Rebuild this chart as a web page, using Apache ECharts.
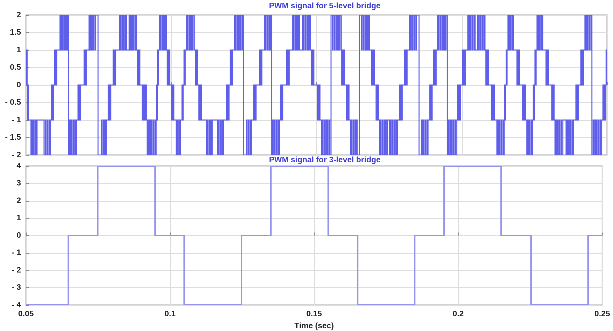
<!DOCTYPE html>
<html>
<head>
<meta charset="utf-8">
<title>PWM signals</title>
<script src="https://cdn.jsdelivr.net/npm/echarts@6/dist/echarts.min.js"></script>
<style>
  html, body { margin: 0; padding: 0; background: #fff; }
  #chart { width: 613px; height: 331px; }
</style>
</head>
<body>
<div id="chart"></div>
<script>
// 5-level bridge output: [time (ms), level from that instant on]
const pwm5 = [
  [50.0, 1], [50.1, 0], [50.25, 1], [50.4, 0], [50.6, -1], [50.75, 0], [50.9, -1],
  [51.7, -2], [52.0, -1], [52.2, -2], [52.6, -1], [52.8, -2], [53.3, -1], [53.5, -2], [53.8, -1],
  [56.2, -2], [56.6, -1], [56.8, -2], [57.2, -1], [57.4, -2], [57.9, -1], [58.1, -2], [58.5, -1],
  [58.7, 0], [58.9, -1], [59.1, 0], [59.3, -1], [59.4, 0],
  [59.8, 1], [60.0, 0], [60.2, 1], [60.4, 0], [60.6, 1],
  [61.7, 2], [62.0, 1], [62.2, 2], [62.6, 1], [62.8, 2], [63.3, 1], [63.6, 2], [63.9, 1], [64.1, 2], [64.4, 1], [64.6, 2],
  [64.7, -2],
  [65.0, -1], [65.3, -2], [65.6, -1], [65.8, -2], [66.2, -1], [66.4, -2], [66.8, -1], [67.0, -2], [67.3, -1],
  [67.9, 0], [68.1, -1], [68.3, 0], [68.6, -1], [68.8, 0],
  [70.0, 1], [70.2, 0], [70.4, 1], [70.7, 0], [70.9, 1],
  [71.7, 2], [72.0, 1], [72.2, 2], [72.6, 1], [72.8, 2], [73.2, 1], [73.4, 2], [73.8, 1], [74.0, 2],
  [74.8, -2],
  [75.9, -1], [76.1, -2], [76.5, -1], [76.7, -2], [77.1, -1], [77.3, -2], [77.7, -1],
  [78.3, 0], [78.5, -1], [78.7, 0], [79.0, -1], [79.2, 0],
  [80.0, 1], [80.2, 0], [80.4, 1], [80.7, 0], [80.9, 1],
  [82.1, 2], [82.4, 1], [82.6, 2], [83.0, 1], [83.2, 2], [83.6, 1], [83.8, 2], [84.2, 1], [84.4, 2], [84.6, 1],
  [85.5, 2], [85.8, 1], [86.0, 2], [86.4, 1], [86.6, 2], [87.0, 1], [87.2, 2], [87.6, 1], [87.8, 2], [88.0, 1],
  [88.3, 0], [88.5, 1], [88.7, 0], [89.0, 1], [89.2, 0],
  [90.0, -1], [90.2, 0], [90.5, -1], [90.8, 0], [91.0, -1], [91.3, 0], [91.4, -1],
  [91.7, -2], [92.0, -1], [92.2, -2], [92.6, -1], [92.8, -2], [93.2, -1], [93.4, -2], [93.8, -1], [94.0, -2], [94.4, -1], [94.6, -2], [94.8, -1],
  [94.9, 0], [95.1, -1], [95.2, 0], [95.3, 1], [95.5, 0], [95.6, 1],
  [95.9, 2], [96.2, 1], [96.4, 2], [96.8, 1], [97.0, 2], [97.4, 1], [97.6, 2], [98.0, 1], [98.2, 2], [98.4, 1],
  [98.6, 0], [98.8, 1], [99.0, 0], [99.3, 1], [99.5, 0],
  [100.0, -1], [100.2, 0], [100.4, -1], [100.7, 0], [100.9, -1],
  [101.7, -2], [102.0, -1], [102.2, -2], [102.6, -1], [102.8, -2], [103.2, -1],
  [103.7, 0], [103.9, -1], [104.1, 0], [104.4, 1], [104.6, 0], [104.8, 1],
  [105.2, 2], [105.5, 1], [105.7, 2], [106.1, 1], [106.3, 2], [106.7, 1], [106.9, 2], [107.3, 1], [107.5, 2], [107.9, 1],
  [108.3, 0], [108.5, 1], [108.7, 0], [109.0, 1], [109.1, 0],
  [109.5, -1], [109.7, 0], [109.9, -1], [110.2, 0], [110.4, -1],
  [112.1, -2], [112.4, -1], [112.6, -2], [113.0, -1], [113.2, -2], [113.6, -1], [113.8, -2], [114.1, -1],
  [115.9, -2], [116.2, -1], [116.4, -2], [116.8, -1], [117.0, -2], [117.4, -1], [117.6, -2], [117.9, -1],
  [119.0, 0], [119.2, -1], [119.4, 0], [119.7, -1], [119.9, 0],
  [120.3, 1], [120.5, 0], [120.7, 1], [120.9, 0], [121.1, 1],
  [121.7, 2], [122.0, 1], [122.2, 2], [122.6, 1], [122.8, 2], [123.2, 1], [123.4, 2], [123.8, 1], [124.0, 2], [124.4, 1], [124.6, 2],
  [124.9, -2],
  [125.9, -1], [126.1, -2], [126.5, -1], [126.7, -2], [127.1, -1], [127.3, -2], [127.7, -1],
  [128.3, 0], [128.5, -1], [128.7, 0], [129.0, -1], [129.2, 0],
  [130.3, 1], [130.5, 0], [130.7, 1], [131.0, 0], [131.2, 1],
  [132.1, 2], [132.4, 1], [132.6, 2], [133.0, 1], [133.2, 2], [133.6, 1], [133.8, 2], [134.2, 1], [134.4, 2],
  [134.6, -2],
  [134.9, -1], [135.1, -2], [135.5, -1], [135.7, -2], [136.1, -1], [136.3, -2], [136.7, -1], [136.9, -2], [137.2, -1],
  [137.6, 0], [137.8, -1], [138.0, 0], [138.2, -1], [138.4, 0],
  [139.7, 1], [139.9, 0], [140.1, 1], [140.4, 0], [140.6, 1],
  [141.7, 2], [142.0, 1], [142.2, 2], [142.6, 1], [142.8, 2], [143.2, 1], [143.4, 2], [143.8, 1], [144.0, 2], [144.2, 1],
  [145.2, 2], [145.5, 1], [145.7, 2], [146.1, 1], [146.3, 2], [146.7, 1], [146.9, 2], [147.3, 1], [147.5, 2], [147.9, 1],
  [148.3, 0], [148.5, 1], [148.7, 0], [148.9, 1], [149.1, 0],
  [150.3, -1], [150.5, 0], [150.7, -1], [151.0, 0], [151.2, -1],
  [151.7, -2], [152.0, -1], [152.2, -2], [152.6, -1], [152.8, -2], [153.2, -1], [153.4, -2], [153.8, -1], [154.0, -2], [154.4, -1], [154.6, -2],
  [155.0, 2],
  [155.5, 1], [155.7, 2], [156.1, 1], [156.3, 2], [156.7, 1], [156.9, 2], [157.3, 1], [157.5, 2], [157.9, 1], [158.1, 2], [158.5, 1],
  [158.7, 0], [158.9, 1], [159.1, 0], [159.4, 1], [159.6, 0],
  [160.3, -1], [160.5, 0], [160.7, -1], [161.0, 0], [161.2, -1],
  [161.7, -2], [162.0, -1], [162.2, -2], [162.6, -1], [162.8, -2], [163.2, -1], [163.4, -2], [163.8, -1], [164.0, -2],
  [164.8, 2],
  [165.5, 1], [165.7, 2], [166.1, 1], [166.3, 2], [166.7, 1], [166.9, 2], [167.3, 1], [167.5, 2], [167.9, 1], [168.1, 2], [168.3, 1],
  [169.0, 0], [169.2, 1], [169.4, 0], [169.7, 1], [169.9, 0],
  [170.5, -1], [170.7, 0], [170.9, -1], [171.1, 0], [171.3, -1],
  [171.7, -2], [172.0, -1], [172.2, -2], [172.6, -1], [172.8, -2], [173.2, -1], [173.4, -2], [173.8, -1], [174.0, -2], [174.5, -1],
  [175.2, -2], [175.5, -1], [175.7, -2], [176.1, -1], [176.3, -2], [176.7, -1], [176.9, -2], [177.3, -1], [177.5, -2], [177.9, -1],
  [178.6, 0], [178.8, -1], [179.0, 0], [179.3, -1], [179.5, 0],
  [180.3, 1], [180.5, 0], [180.7, 1], [181.0, 0], [181.2, 1],
  [182.1, 2], [182.4, 1], [182.6, 2], [183.0, 1], [183.2, 2], [183.6, 1], [183.8, 2], [184.2, 1], [184.4, 2],
  [185.3, -2],
  [186.2, -1], [186.4, -2], [186.8, -1], [187.0, -2], [187.4, -1], [187.6, -2], [188.0, -1], [188.2, -2], [188.4, -1],
  [189.0, 0], [189.2, -1], [189.4, 0], [189.6, -1], [189.8, 0],
  [190.3, 1], [190.5, 0], [190.7, 1], [191.0, 0], [191.2, 1],
  [191.7, 2], [192.0, 1], [192.2, 2], [192.6, 1], [192.8, 2], [193.2, 1], [193.4, 2], [193.8, 1], [194.0, 2], [194.4, 1], [194.6, 2],
  [195.0, -2],
  [195.3, -1], [195.5, -2], [195.9, -1], [196.1, -2], [196.5, -1], [196.7, -2], [197.1, -1], [197.3, -2], [197.7, -1], [197.9, -2], [198.3, -1],
  [198.6, 0], [198.8, -1], [199.0, 0], [199.3, -1], [199.5, 0],
  [200.3, 1], [200.5, 0], [200.7, 1], [201.0, 0], [201.2, 1],
  [202.1, 2], [202.4, 1], [202.6, 2], [203.0, 1], [203.2, 2], [203.6, 1], [203.8, 2], [204.2, 1], [204.4, 2], [204.6, 1],
  [205.5, 2], [205.8, 1], [206.0, 2], [206.4, 1], [206.6, 2], [207.0, 1], [207.2, 2], [207.6, 1], [207.8, 2], [208.0, 1],
  [208.3, 0], [208.5, 1], [208.7, 0], [209.0, 1], [209.2, 0],
  [210.3, -1], [210.5, 0], [210.7, -1], [211.0, 0], [211.2, -1],
  [212.1, -2], [212.4, -1], [212.6, -2], [213.0, -1], [213.2, -2], [213.6, -1], [213.8, -2], [214.2, -1], [214.4, -2], [214.6, -1],
  [214.8, 0], [215.0, -1], [215.1, 0], [215.3, 1], [215.5, 0], [215.6, 1],
  [215.9, 2], [216.2, 1], [216.4, 2], [216.8, 1], [217.0, 2], [217.4, 1], [217.6, 2], [217.9, 1],
  [219.0, 0], [219.2, 1], [219.4, 0], [219.7, 1], [219.9, 0],
  [221.0, -1], [221.2, 0], [221.4, -1], [221.7, 0], [221.9, -1],
  [222.4, -2], [222.7, -1], [222.9, -2], [223.3, -1], [223.5, -2], [223.9, -1], [224.1, -2], [224.3, -1],
  [224.6, 0], [224.8, -1], [225.0, 0], [225.2, 1], [225.4, 0], [225.6, 1],
  [225.9, 2], [226.2, 1], [226.4, 2], [226.8, 1], [227.0, 2], [227.4, 1], [227.6, 2], [227.9, 1],
  [229.0, 0], [229.2, 1], [229.4, 0], [229.7, 1], [229.9, 0],
  [231.0, -1], [231.2, 0], [231.4, -1], [231.6, 0], [231.8, -1],
  [232.1, -2], [232.4, -1], [232.6, -2], [233.0, -1], [233.2, -2], [233.6, -1], [233.8, -2], [234.2, -1], [234.4, -2], [234.8, -1],
  [235.9, -2], [236.2, -1], [236.4, -2], [236.8, -1], [237.0, -2], [237.4, -1], [237.6, -2], [238.0, -1], [238.2, -2], [238.4, -1],
  [239.3, 0], [239.5, -1], [239.7, 0], [240.0, -1], [240.2, 0],
  [241.0, 1], [241.2, 0], [241.4, 1], [241.7, 0], [241.9, 1],
  [242.4, 2], [242.7, 1], [242.9, 2], [243.3, 1], [243.5, 2], [243.9, 1], [244.1, 2], [244.5, 1], [244.6, 2],
  [244.8, -2],
  [245.2, -1], [245.4, -2], [245.8, -1], [246.0, -2], [246.4, -1], [246.6, -2], [247.0, -1], [247.2, -2], [247.6, -1], [247.8, -2], [248.2, -1],
  [248.6, 0], [248.8, -1], [249.0, 0], [249.2, -1], [249.4, 0],
  [249.7, 1], [249.9, 0], [250.0, 0]
];

// 3-level bridge output: [time (ms), level from that instant on]
const pwm3 = [
  [50.0, -4], [64.7, 0], [74.9, 4], [94.8, 0], [104.9, -4], [124.8, 0], [135.0, 4],
  [154.9, 0], [165.1, -4], [184.9, 0], [195.1, 4], [214.9, 0], [225.3, -4], [245.1, 0], [250.0, 0]
];

const titles = ["PWM signal for 5-level bridge", "PWM signal for 3-level bridge"];
const xRange = [0.05, 0.25];
const xStep = 0.05;
const yRange5 = [-2, 2];
const yStep5 = 0.5;
const yRange3 = [-4, 4];
const yStep3 = 1;

const signed = (v) => (v < 0 ? "- " + Math.abs(v) : String(v));

// high backing resolution so sub-pixel pulses are not dropped by the renderer
const chart = echarts.init(document.getElementById("chart"), null, { renderer: "canvas", devicePixelRatio: 4 });

const labelFont = { fontFamily: "Liberation Sans, Arial, sans-serif", fontWeight: "bold", fontSize: 8, color: "#222" };
const gridLine = { show: true, lineStyle: { color: "#dedede", width: 1 } };

function xAxisFor(gridIndex, showLabels) {
  return {
    type: "value",
    gridIndex: gridIndex,
    min: xRange[0],
    max: xRange[1],
    interval: xStep,
    axisLine: { show: false },
    axisTick: { show: true, inside: true, length: 3, lineStyle: { color: "#888" } },
    axisLabel: Object.assign({ show: showLabels, margin: 5, formatter: (v) => String(+v.toFixed(2)) }, labelFont),
    splitLine: gridLine,
    name: showLabels ? "Time (sec)" : "",
    nameLocation: "middle",
    nameGap: 17,
    nameTextStyle: labelFont
  };
}

function yAxisFor(gridIndex, range, step) {
  return {
    type: "value",
    gridIndex: gridIndex,
    min: range[0],
    max: range[1],
    interval: step,
    axisLine: { show: false },
    axisTick: { show: true, inside: true, length: 3, lineStyle: { color: "#888" } },
    axisLabel: Object.assign({ margin: 5, formatter: signed }, labelFont),
    splitLine: gridLine
  };
}

// step trace drawn as one polyline through the axes' scales
function stepSeries(index, signal, color, width) {
  return {
    type: "custom",
    coordinateSystem: "cartesian2d",
    xAxisIndex: index,
    yAxisIndex: index,
    clip: true,
    silent: true,
    data: [[xRange[0], 0]],
    renderItem: (params, api) => {
      const pts = [];
      signal.forEach((p, i) => {
        const t = p[0] / 1000;
        if (i > 0) pts.push(api.coord([t, signal[i - 1][1]]));
        pts.push(api.coord([t, p[1]]));
      });
      return {
        type: "polyline",
        shape: { points: pts },
        style: { stroke: color, lineWidth: width, fill: null }
      };
    }
  };
}

const option = {
  animation: false,
  backgroundColor: "#fff",
  title: titles.map((t, i) => ({
    text: t,
    left: 269,
    top: i === 0 ? 2 : 156,
    padding: 0,
    textStyle: { fontFamily: "Liberation Sans, Arial, sans-serif", fontWeight: "bold", fontSize: 8, color: "#4040d4" }
  })),
  grid: [
    { left: 26, top: 15, width: 581, height: 140, show: true, borderColor: "#a8a8a8", borderWidth: 1 },
    { left: 26, top: 166, width: 581, height: 140, show: true, borderColor: "#a8a8a8", borderWidth: 1 }
  ],
  xAxis: [xAxisFor(0, false), xAxisFor(1, true)],
  yAxis: [yAxisFor(0, yRange5, yStep5), yAxisFor(1, yRange3, yStep3)],
  series: [
    stepSeries(0, pwm5, "#5e5eea", 1),
    stepSeries(1, pwm3, "#9494ee", 1.5)
  ]
};

chart.setOption(option);
</script>
</body>
</html>
